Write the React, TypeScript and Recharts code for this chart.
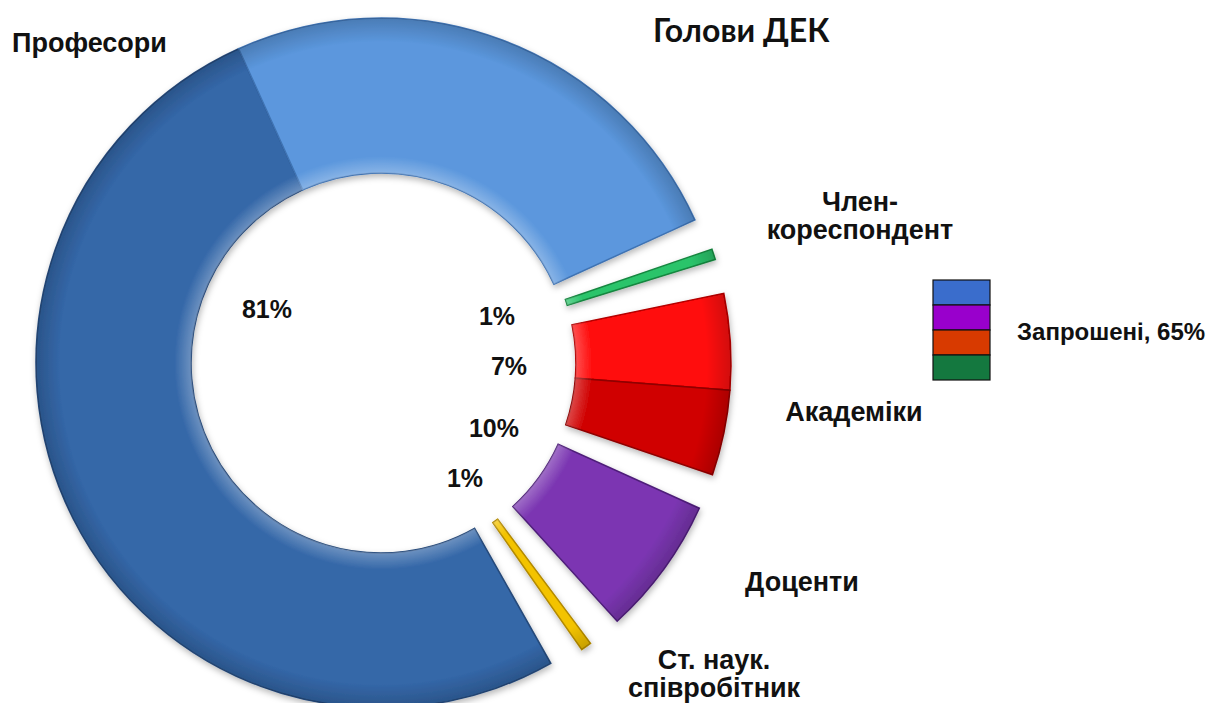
import { PieChart, Pie, Sector } from 'recharts';

const RADIAN = Math.PI / 180;

const TITLE = 'Голови ДЕК';
const CATEGORIES = ['Член-кореспондент', 'Академіки', 'Доценти', 'Ст. наук. співробітник', 'Професори'];
// heads per category, split into two shades (first part drawn first, going clockwise)
const PART_A = [1, 9, 13, 1, 103];
const PART_B = [0, 8, 0, 0, 50];
const PCT_LABELS = ['1%', '7%', '10%', '1%', '81%'];

const LEGEND_COLORS = ['#3a6dcc', '#9900cc', '#d83a00', '#14783f'];
const LEGEND_LABEL = 'Запрошені, 65%';

// styles
const FILL_A = ['#2bc46b', '#ff0a0a', '#7b36b2', '#f3c300', '#3467a8'];
const FILL_B = ['#2bc46b', '#d00000', '#7b36b2', '#f3c300', '#5b97dd'];
const EDGE_A = ['#14863f', '#b30000', '#4f1f7a', '#b38a00', '#25497a'];
const EDGE_B = ['#14863f', '#8f0000', '#4f1f7a', '#b38a00', '#3f73b3'];
const EXPLODED = ['Член-кореспондент', 'Академіки', 'Доценти', 'Ст. наук. співробітник'];
const EXPLODE_PX = 5;
const FONT = '"Liberation Sans", Arial, sans-serif';

// text placement (dragged by hand in the original, so kept as plain layout)
type TextSpot = { x: number; y: number; anchor: 'start' | 'middle'; lines: string[] };
const NAME_LAYOUT: { [k: string]: TextSpot } = {
  'Професори': { x: 12, y: 52, anchor: 'start', lines: ['Професори'] },
  'Член-кореспондент': { x: 860, y: 211, anchor: 'middle', lines: ['Член-', 'кореспондент'] },
  'Академіки': { x: 854, y: 421, anchor: 'middle', lines: ['Академіки'] },
  'Доценти': { x: 802, y: 591, anchor: 'middle', lines: ['Доценти'] },
  'Ст. наук. співробітник': { x: 714, y: 669, anchor: 'middle', lines: ['Ст. наук.', 'співробітник'] },
};
const PCT_LAYOUT: { [k: string]: { x: number; y: number } } = {
  'Професори': { x: 267, y: 318 },
  'Член-кореспондент': { x: 497, y: 325 },
  'Академіки': { x: 509, y: 375 },
  'Доценти': { x: 494, y: 437 },
  'Ст. наук. співробітник': { x: 465, y: 487 },
};

const pieData = CATEGORIES.map((name, i) => ({
  name,
  a: PART_A[i],
  b: PART_B[i],
  value: PART_A[i] + PART_B[i],
}));

const SlicePair = (props: any) => {
  const { cx, cy, innerRadius, outerRadius, startAngle, endAngle, midAngle } = props;
  const d = props.payload && props.payload.name ? props.payload : props;
  const i = CATEGORIES.indexOf(d.name);
  const split = startAngle + ((endAngle - startAngle) * d.a) / (d.a + d.b);
  const off = EXPLODED.includes(d.name) ? EXPLODE_PX : 0;
  const dx = off * Math.cos(-midAngle * RADIAN);
  const dy = off * Math.sin(-midAngle * RADIAN);
  const ring = { cx, cy, innerRadius, outerRadius };
  return (
    <g transform={`translate(${dx},${dy})`} filter="url(#sliceShadow)">
      <Sector {...ring} startAngle={startAngle} endAngle={split} fill={FILL_A[i]} stroke={EDGE_A[i]} strokeWidth={1.5} />
      {d.b > 0 && (
        <Sector {...ring} startAngle={split} endAngle={endAngle} fill={FILL_B[i]} stroke={EDGE_B[i]} strokeWidth={1.5} />
      )}
      <Sector {...ring} startAngle={startAngle} endAngle={endAngle} fill="url(#bevel)" stroke="none" />
    </g>
  );
};

export default function App() {
  return (
    <div style={{ position: 'absolute', left: 0, top: 0, width: 1210, height: 703, background: '#fff' }}>
      <PieChart width={1210} height={703} margin={{ top: 0, right: 0, bottom: 0, left: 0 }}>
        <defs>
          <filter id="sliceShadow" x="-20%" y="-20%" width="140%" height="140%">
            <feDropShadow dx="1" dy="3" stdDeviation="3" floodColor="#000" floodOpacity="0.28" />
          </filter>
          <radialGradient id="bevel" gradientUnits="userSpaceOnUse" cx={381} cy={363} r={345}>
            <stop offset="0.55" stopColor="#fff" stopOpacity={0.28} />
            <stop offset="0.6" stopColor="#fff" stopOpacity={0} />
            <stop offset="0.93" stopColor="#000" stopOpacity={0} />
            <stop offset="1" stopColor="#000" stopOpacity={0.18} />
          </radialGradient>
        </defs>
        <Pie
          data={pieData}
          dataKey="value"
          nameKey="name"
          cx={381}
          cy={363}
          innerRadius={190}
          outerRadius={345}
          startAngle={19}
          endAngle={-341}
          paddingAngle={5.5}
          stroke="none"
          shape={SlicePair}
          isAnimationActive={false}
        />
        <text x={653} y={42} fontFamily='Lato, "Liberation Sans", sans-serif' fontWeight="bold" fontSize={32} fill="#111">
          {TITLE}
        </text>
        {CATEGORIES.map((c, i) => {
          const l = NAME_LAYOUT[c];
          const p = PCT_LAYOUT[c];
          return (
            <g key={c}>
              <text x={l.x} y={l.y} textAnchor={l.anchor} fontFamily={FONT} fontWeight="bold" fontSize={27} fill="#111">
                {l.lines.map((s, k) => (
                  <tspan key={k} x={l.x} dy={k === 0 ? 0 : 28}>
                    {s}
                  </tspan>
                ))}
              </text>
              <text x={p.x} y={p.y} textAnchor="middle" fontFamily={FONT} fontWeight="bold" fontSize={25} fill="#111">
                {PCT_LABELS[i]}
              </text>
            </g>
          );
        })}
        <g>
          {LEGEND_COLORS.map((c, k) => (
            <rect key={c} x={933} y={280 + k * 25} width={57} height={25} fill={c} stroke="#111" strokeWidth={1.2} />
          ))}
          <text x={1017} y={340} fontFamily={FONT} fontWeight="bold" fontSize={24} fill="#111">
            {LEGEND_LABEL}
          </text>
        </g>
      </PieChart>
    </div>
  );
}
